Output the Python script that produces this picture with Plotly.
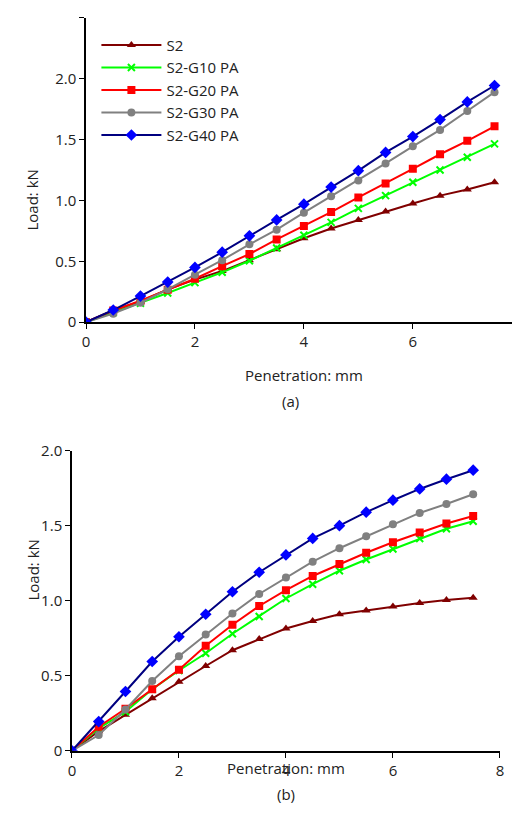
import plotly.graph_objects as go

x = [0, 0.5, 1, 1.5, 2, 2.5, 3, 3.5, 4, 4.5, 5, 5.5, 6, 6.5, 7, 7.5]
series_names = ["S2", "S2-G10 PA", "S2-G20 PA", "S2-G30 PA", "S2-G40 PA"]

# (a)
a_s2 = [0, 0.096, 0.17, 0.27, 0.35, 0.42, 0.51, 0.60, 0.69, 0.77, 0.84, 0.91, 0.975, 1.04, 1.09, 1.15]
a_g10 = [0, 0.08, 0.155, 0.24, 0.325, 0.41, 0.505, 0.61, 0.715, 0.82, 0.935, 1.04, 1.15, 1.25, 1.355, 1.465]
a_g20 = [0, 0.096, 0.176, 0.266, 0.357, 0.46, 0.56, 0.68, 0.79, 0.905, 1.025, 1.14, 1.26, 1.38, 1.49, 1.61]
a_g30 = [0, 0.07, 0.16, 0.27, 0.39, 0.51, 0.64, 0.76, 0.90, 1.035, 1.165, 1.305, 1.445, 1.58, 1.735, 1.89]
a_g40 = [0, 0.10, 0.215, 0.33, 0.45, 0.575, 0.71, 0.84, 0.97, 1.11, 1.245, 1.395, 1.525, 1.665, 1.81, 1.945]

# (b)
b_s2 = [0, 0.13, 0.24, 0.35, 0.46, 0.565, 0.67, 0.745, 0.815, 0.865, 0.91, 0.935, 0.962, 0.985, 1.005, 1.02]
b_g10 = [0, 0.15, 0.26, 0.41, 0.535, 0.65, 0.78, 0.895, 1.015, 1.11, 1.20, 1.275, 1.345, 1.415, 1.48, 1.53]
b_g20 = [0, 0.16, 0.28, 0.41, 0.54, 0.70, 0.84, 0.965, 1.07, 1.165, 1.245, 1.32, 1.39, 1.455, 1.515, 1.565]
b_g30 = [0, 0.105, 0.275, 0.465, 0.63, 0.775, 0.915, 1.045, 1.155, 1.26, 1.35, 1.43, 1.51, 1.585, 1.645, 1.71]
b_g40 = [0, 0.195, 0.395, 0.595, 0.76, 0.91, 1.06, 1.19, 1.305, 1.415, 1.50, 1.59, 1.67, 1.745, 1.81, 1.87]

line_colors = ["#800000", "#00ff00", "#ff0000", "#808080", "#000080"]
marker_colors = ["#800000", "#00ff00", "#ff0000", "#808080", "#0000ff"]
symbols = ["triangle-up", "x-thin", "square", "circle", "diamond"]
sizes = [8, 7, 8, 8, 9]

fig = go.Figure()
for k, (ya, yb) in enumerate(zip([a_s2, a_g10, a_g20, a_g30, a_g40], [b_s2, b_g10, b_g20, b_g30, b_g40])):
    mk = dict(symbol=symbols[k], size=sizes[k], color=marker_colors[k],
              line=dict(color=marker_colors[k], width=2 if k == 1 else 0))
    fig.add_trace(go.Scatter(x=x, y=ya, mode="lines+markers", name=series_names[k],
                             line=dict(color=line_colors[k], width=2), marker=mk,
                             xaxis="x", yaxis="y"))
    fig.add_trace(go.Scatter(x=x, y=yb, mode="lines+markers", name=series_names[k],
                             line=dict(color=line_colors[k], width=2), marker=mk,
                             showlegend=False, xaxis="x2", yaxis="y2"))

font = dict(family="Open Sans", size=15, color="#222")
ax = dict(showline=True, linecolor="black", linewidth=1.5, ticks="outside", ticklen=5,
          tickcolor="black", showgrid=False, zeroline=False, tickfont=font, automargin=False)

fig.update_layout(
    width=520, height=829, margin=dict(l=0, r=0, t=0, b=0, autoexpand=False),
    plot_bgcolor="white", paper_bgcolor="white", font=font,
    xaxis=dict(ax, domain=[0.15, 0.988], range=[0, 8], dtick=2, anchor="y"),
    yaxis=dict(ax, domain=[0.621, 0.988], range=[0, 2.5], anchor="x",
               tickvals=[0, 0.5, 1, 1.5, 2, 2.5], ticktext=["0", "0.5", "1.0", "1.5", "2.0", "2.5"]),
    xaxis2=dict(ax, domain=[0.123, 0.946], range=[0, 8], dtick=2, anchor="y2"),
    yaxis2=dict(ax, domain=[0.104, 0.466], range=[0, 2.0], anchor="x2",
                tickvals=[0, 0.5, 1, 1.5, 2], ticktext=["0", "0.5", "1.0", "1.5", "2.0"]),
    legend=dict(x=0.17, y=0.975, xanchor="left", yanchor="top", bgcolor="rgba(0,0,0,0)",
                font=font, itemwidth=60, tracegroupgap=0),
    annotations=[
        dict(text="Penetration: mm", x=0.569, y=1 - 367 / 829, xref="paper", yref="paper", showarrow=False, font=font),
        dict(text="(a)", x=0.544, y=1 - 393 / 829, xref="paper", yref="paper", showarrow=False, font=font),
        dict(text="Load: kN", x=12 / 520, y=1 - 160 / 829, xref="paper", yref="paper", showarrow=False,
             textangle=-90, font=font),
        dict(text="Penetration: mm", x=0.535, y=1 - 772 / 829, xref="paper", yref="paper", showarrow=False, font=font),
        dict(text="(b)", x=0.535, y=1 - 798 / 829, xref="paper", yref="paper", showarrow=False, font=font),
        dict(text="Load: kN", x=12 / 520, y=1 - 595 / 829, xref="paper", yref="paper", showarrow=False,
             textangle=-90, font=font),
    ],
)

fig.write_html("out.html")
